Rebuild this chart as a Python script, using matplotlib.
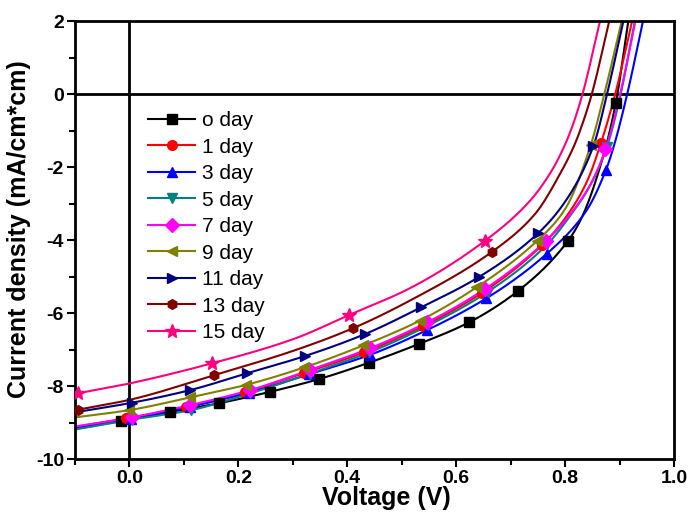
import numpy as np
import matplotlib
matplotlib.use("Agg")
import matplotlib.pyplot as plt
from matplotlib.ticker import MultipleLocator

plt.rcParams['font.family'] = ['Liberation Sans', 'DejaVu Sans']
plt.rcParams['axes.unicode_minus'] = False

labels = ["o day", "1 day", "3 day", "5 day", "7 day", "9 day", "11 day", "13 day", "15 day"]
colors = ["#000000", "#FF0000", "#0000FF", "#008080", "#FF00FF", "#808000", "#000080", "#800000", "#FF0080"]
markers = ["s", "o", "^", "v", "D", "<", ">", "h", "*"]

# voltage (V) / current density (mA/cm*cm)
v_0 = [-0.1, -0.016, 0.075, 0.165, 0.258, 0.348, 0.440, 0.531, 0.623, 0.714, 0.805, 0.83, 0.87, 0.893, 0.916]
j_0 = [-9.18, -8.96, -8.71, -8.47, -8.16, -7.81, -7.36, -6.85, -6.26, -5.39, -4.03, -3.40, -1.70, -0.25, 2.0]
mk_0 = [1, 2, 3, 4, 5, 6, 7, 8, 9, 10, 13]

v_1 = [-0.1, -0.006, 0.103, 0.212, 0.321, 0.430, 0.539, 0.648, 0.757, 0.805, 0.84, 0.866, 0.892, 0.923]
j_1 = [-9.12, -8.89, -8.57, -8.17, -7.64, -7.08, -6.36, -5.44, -4.15, -3.30, -2.40, -1.33, 0.0, 2.0]
mk_1 = [1, 2, 3, 4, 5, 6, 7, 8, 11]

v_3 = [-0.1, 0.002, 0.111, 0.220, 0.329, 0.441, 0.546, 0.655, 0.766, 0.838, 0.875, 0.890, 0.914, 0.943]
j_3 = [-9.16, -8.90, -8.57, -8.18, -7.68, -7.15, -6.47, -5.60, -4.38, -3.22, -2.08, -1.40, 0.0, 2.0]
mk_3 = [1, 2, 3, 4, 5, 6, 7, 8, 10]

v_5 = [-0.1, 0.004, 0.113, 0.222, 0.331, 0.440, 0.549, 0.658, 0.767, 0.81, 0.846, 0.877, 0.902, 0.928]
j_5 = [-9.19, -8.92, -8.66, -8.20, -7.66, -7.08, -6.34, -5.42, -4.12, -3.32, -2.50, -1.44, 0.0, 2.0]
mk_5 = [1, 2, 3, 4, 5, 6, 7, 8, 11]

v_7 = [-0.1, 0.004, 0.112, 0.222, 0.331, 0.441, 0.546, 0.652, 0.765, 0.808, 0.845, 0.874, 0.901, 0.929]
j_7 = [-9.11, -8.86, -8.52, -8.11, -7.56, -6.97, -6.26, -5.35, -4.02, -3.32, -2.52, -1.52, 0.0, 2.0]
mk_7 = [1, 2, 3, 4, 5, 6, 7, 8, 11]

v_9 = [-0.1, 0.0, 0.112, 0.214, 0.321, 0.429, 0.533, 0.637, 0.748, 0.80, 0.847, 0.872, 0.904]
j_9 = [-8.86, -8.66, -8.31, -7.97, -7.49, -6.89, -6.21, -5.30, -4.03, -3.15, -1.40, 0.0, 2.0]
mk_9 = [1, 2, 3, 4, 5, 6, 7, 8, 10]

v_11 = [-0.1, 0.004, 0.112, 0.216, 0.322, 0.432, 0.536, 0.641, 0.750, 0.80, 0.852, 0.877, 0.907]
j_11 = [-8.72, -8.46, -8.11, -7.65, -7.18, -6.58, -5.84, -5.02, -3.82, -2.95, -1.42, 0.0, 2.0]
mk_11 = [1, 2, 3, 4, 5, 6, 7, 8, 10]

v_13 = [-0.1, -0.094, 0.0, 0.156, 0.3, 0.41, 0.52, 0.666, 0.744, 0.792, 0.817, 0.832, 0.849, 0.881]
j_13 = [-8.67, -8.65, -8.38, -7.70, -7.04, -6.42, -5.62, -4.32, -3.30, -2.15, -1.40, -0.81, 0.0, 2.0]
mk_13 = [1, 3, 5, 7]

v_15 = [-0.1, -0.094, 0.0, 0.151, 0.3, 0.404, 0.515, 0.652, 0.734, 0.775, 0.80, 0.815, 0.832, 0.864]
j_15 = [-8.22, -8.20, -7.93, -7.38, -6.72, -6.05, -5.32, -4.03, -2.95, -2.11, -1.38, -0.81, 0.0, 2.0]
mk_15 = [1, 3, 5, 7]

all_v = [v_0, v_1, v_3, v_5, v_7, v_9, v_11, v_13, v_15]
all_j = [j_0, j_1, j_3, j_5, j_7, j_9, j_11, j_13, j_15]
all_mk = [mk_0, mk_1, mk_3, mk_5, mk_7, mk_9, mk_11, mk_13, mk_15]


def smooth(x, y, n=400):
    # monotone cubic (pchip) through the read points, only for drawing
    x = np.asarray(x, float)
    y = np.asarray(y, float)
    h = np.diff(x)
    d = np.diff(y) / h
    m = np.zeros_like(y)
    for k in range(1, len(x) - 1):
        if d[k - 1] * d[k] > 0:
            w1 = 2 * h[k] + h[k - 1]
            w2 = h[k] + 2 * h[k - 1]
            m[k] = (w1 + w2) / (w1 / d[k - 1] + w2 / d[k])
    m[0] = d[0]
    m[-1] = d[-1]
    xs = np.linspace(x[0], x[-1], n)
    idx = np.clip(np.searchsorted(x, xs) - 1, 0, len(h) - 1)
    t = (xs - x[idx]) / h[idx]
    h00 = 2 * t**3 - 3 * t**2 + 1
    h10 = t**3 - 2 * t**2 + t
    h01 = -2 * t**3 + 3 * t**2
    h11 = t**3 - t**2
    ys = h00 * y[idx] + h10 * h[idx] * m[idx] + h01 * y[idx + 1] + h11 * h[idx] * m[idx + 1]
    return xs, ys


fig = plt.figure(figsize=(6.89, 5.25), dpi=100)
ax = fig.add_axes([0.1089, 0.1257, 0.8694, 0.8343])

ax.axhline(0, color="black", lw=2, zorder=1)
ax.axvline(0, color="black", lw=2, zorder=1)

for i in range(len(labels)):
    xs, ys = smooth(all_v[i], all_j[i])
    ax.plot(xs, ys, color=colors[i], lw=1.5, zorder=2)
    mv = [all_v[i][k] for k in all_mk[i]]
    mj = [all_j[i][k] for k in all_mk[i]]
    ms = 10 if markers[i] == "*" else 7
    ax.plot(mv, mj, ls="none", marker=markers[i], color=colors[i], ms=ms, zorder=3)
    # legend proxy
    ax.plot([], [], color=colors[i], lw=1.5, marker=markers[i], ms=ms, label=labels[i])

ax.set_xlim(-0.1, 1.0)
ax.set_ylim(-10, 2)
ax.xaxis.set_major_locator(MultipleLocator(0.2))
ax.xaxis.set_minor_locator(MultipleLocator(0.1))
ax.yaxis.set_major_locator(MultipleLocator(2))
ax.yaxis.set_minor_locator(MultipleLocator(1))
ax.set_xticks([0.0, 0.2, 0.4, 0.6, 0.8, 1.0])
ax.tick_params(which="both", direction="out", width=1.5, top=False, right=False, labelsize=14, pad=2)
ax.tick_params(which="major", length=6)
ax.tick_params(which="minor", length=4)
for lab in ax.get_xticklabels() + ax.get_yticklabels():
    lab.set_fontweight("bold")
for s in ax.spines.values():
    s.set_linewidth(2)

ax.set_xlabel("Voltage (V)", fontsize=18, fontweight="bold")
ax.set_ylabel("Current density (mA/cm*cm)", fontsize=18, fontweight="bold")
ax.xaxis.set_label_coords(0.52, -0.062)
ax.yaxis.set_label_coords(-0.073, 0.525)

ax.legend(loc="upper left", bbox_to_anchor=(0.1225, 0.7945), frameon=False, fontsize=15,
          borderpad=0, borderaxespad=0, handlelength=2.25, handletextpad=0.3, labelspacing=0.36)

fig.savefig("out.png", dpi=100)
